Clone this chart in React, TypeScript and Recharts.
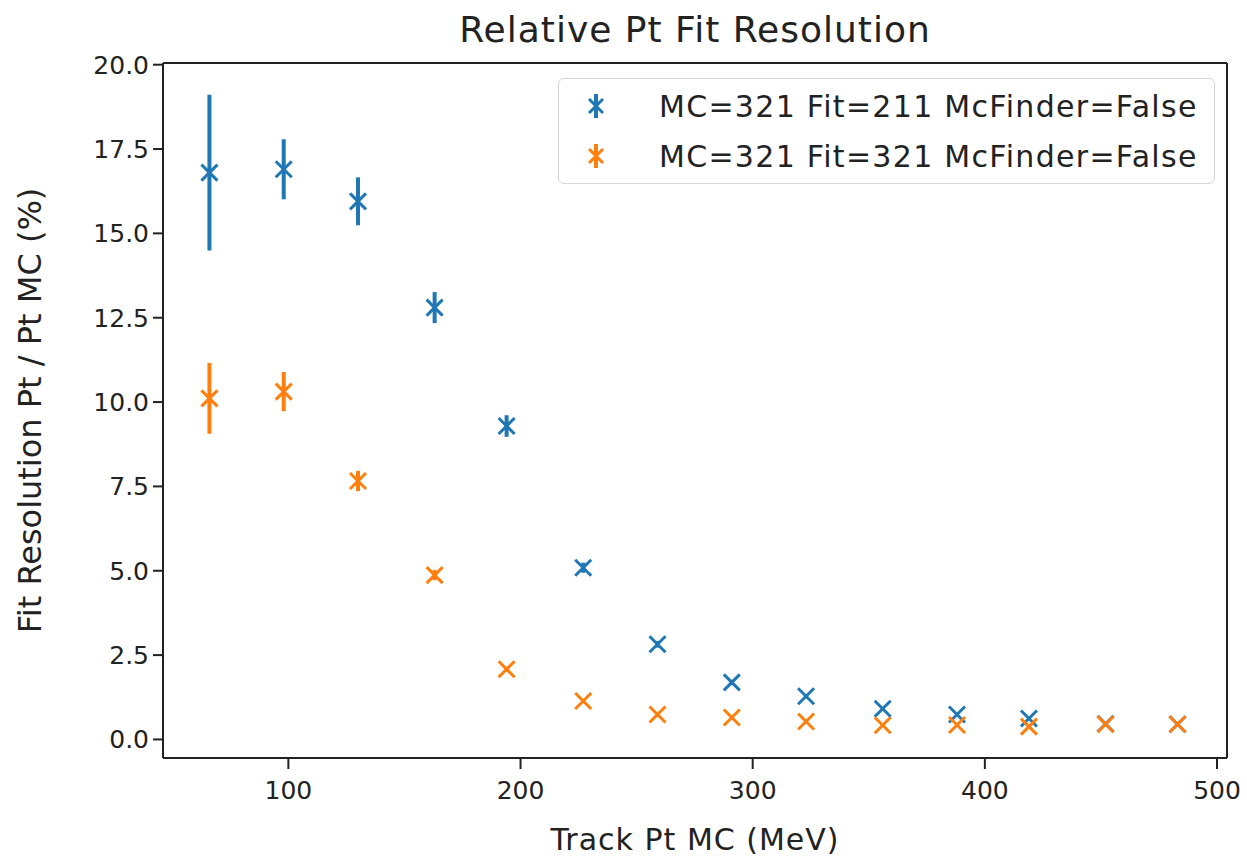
import React from 'react';
import {
  ScatterChart,
  Scatter,
  XAxis,
  YAxis,
  ErrorBar,
  ReferenceLine,
} from 'recharts';

// Track Pt MC (MeV) bin centres
const ptMC = [66, 98, 130, 163, 194, 227, 259, 291, 323, 356, 388, 419, 452, 483];

// MC=321 Fit=211 McFinder=False
const fit211 = [16.8, 16.9, 15.95, 12.8, 9.29, 5.09, 2.82, 1.69, 1.28, 0.91, 0.74, 0.62, 0.46, 0.45];
const fit211Err = [2.31, 0.89, 0.71, 0.46, 0.32, 0.15, 0.1, 0.08, 0.06, 0.05, 0.05, 0.04, 0.04, 0.04];

// MC=321 Fit=321 McFinder=False
const fit321 = [10.11, 10.31, 7.66, 4.87, 2.08, 1.14, 0.74, 0.65, 0.53, 0.42, 0.43, 0.38, 0.45, 0.45];
const fit321Err = [1.05, 0.58, 0.3, 0.15, 0.08, 0.06, 0.05, 0.04, 0.04, 0.03, 0.03, 0.03, 0.03, 0.03];

const xTicks = [100, 200, 300, 400, 500];
const yTicks = [0, 2.5, 5, 7.5, 10, 12.5, 15, 17.5, 20];

const seriesNames = ['MC=321 Fit=211 McFinder=False', 'MC=321 Fit=321 McFinder=False'];
const BLUE = '#1f77b4';
const ORANGE = '#ff7f0e';
const FONT = '"DejaVu Sans", sans-serif';
const X_DOMAIN: [number, number] = [46, 504.3];
const Y_DOMAIN: [number, number] = [-0.55, 20.05];

const toPoints = (ys: number[], errs: number[]) =>
  ptMC.map((x, i) => ({ x, y: ys[i], err: errs[i] }));

const blueData = toPoints(fit211, fit211Err);
const orangeData = toPoints(fit321, fit321Err);

// matplotlib style 'x' marker
const xMarker = (color: string) => (props: any) => {
  const { cx, cy } = props;
  const s = 8;
  return (
    <g>
      <line x1={cx - s} y1={cy - s} x2={cx + s} y2={cy + s} stroke={color} strokeWidth={3} />
      <line x1={cx - s} y1={cy + s} x2={cx + s} y2={cy - s} stroke={color} strokeWidth={3} />
    </g>
  );
};

const LegendIcon = ({ color }: { color: string }) => (
  <svg width={24} height={30} style={{ display: 'block' }}>
    <line x1={12} y1={3} x2={12} y2={27} stroke={color} strokeWidth={4} />
    <line x1={5} y1={8} x2={19} y2={22} stroke={color} strokeWidth={3} />
    <line x1={5} y1={22} x2={19} y2={8} stroke={color} strokeWidth={3} />
  </svg>
);

const ChartLegend = () => (
  <div
    style={{
      position: 'absolute',
      top: 78,
      left: 558,
      width: 657,
      border: '1.5px solid #d6d6d6',
      borderRadius: 6,
      background: 'rgba(255,255,255,0.8)',
      padding: '2px 0',
      fontFamily: FONT,
      fontSize: 30,
      letterSpacing: 1.3,
      color: '#222',
      boxSizing: 'border-box',
    }}
  >
    {seriesNames.map((name, i) => (
      <div key={name} style={{ display: 'flex', alignItems: 'center', height: 50 }}>
        <div style={{ width: 25, marginLeft: 25 }}>
          <LegendIcon color={i === 0 ? BLUE : ORANGE} />
        </div>
        <span style={{ marginLeft: 50, whiteSpace: 'nowrap' }}>{name}</span>
      </div>
    ))}
  </div>
);

const axisColor = '#222';
const tickStyle = { fill: '#222', fontSize: 25, fontFamily: FONT };

export default function App() {
  return (
    <div style={{ position: 'absolute', left: 0, top: 0, width: 1247, height: 858, background: '#fff' }}>
      <div
        style={{
          position: 'absolute',
          left: 163,
          width: 1064,
          top: 9,
          textAlign: 'center',
          fontFamily: FONT,
          fontSize: 36,
          letterSpacing: 1,
          color: '#222',
        }}
      >
        Relative Pt Fit Resolution
      </div>
      <ScatterChart
        width={1247}
        height={858}
        margin={{ top: 63, right: 20, bottom: 0, left: 0 }}
      >
        <XAxis
          type="number"
          dataKey="x"
          domain={X_DOMAIN}
          ticks={xTicks}
          allowDataOverflow
          height={100}
          tickSize={11}
          tickMargin={12}
          stroke={axisColor}
          strokeWidth={2}
          tick={tickStyle}
          label={{
            value: 'Track Pt MC (MeV)',
            position: 'insideBottom',
            offset: 8,
            style: { fill: '#222', fontSize: 30, fontFamily: FONT, letterSpacing: 1 },
          }}
        />
        <YAxis
          type="number"
          dataKey="y"
          domain={Y_DOMAIN}
          ticks={yTicks}
          allowDataOverflow
          width={163}
          tickSize={10}
          tickMargin={4}
          stroke={axisColor}
          strokeWidth={2}
          tick={tickStyle}
          tickFormatter={(v: number) => v.toFixed(1)}
          label={{
            value: 'Fit Resolution Pt / Pt MC (%)',
            angle: -90,
            position: 'insideLeft',
            offset: 30,
            style: { textAnchor: 'middle', fill: '#222', fontSize: 32, fontFamily: FONT },
          }}
        />
        {/* top and right spines */}
        <ReferenceLine y={Y_DOMAIN[1]} stroke={axisColor} strokeWidth={2} />
        <ReferenceLine x={X_DOMAIN[1]} stroke={axisColor} strokeWidth={2} />
        <Scatter
          name={seriesNames[0]}
          data={blueData}
          fill={BLUE}
          shape={xMarker(BLUE)}
          isAnimationActive={false}
        >
          <ErrorBar dataKey="err" direction="y" width={0} stroke={BLUE} strokeWidth={4} isAnimationActive={false} />
        </Scatter>
        <Scatter
          name={seriesNames[1]}
          data={orangeData}
          fill={ORANGE}
          shape={xMarker(ORANGE)}
          isAnimationActive={false}
        >
          <ErrorBar dataKey="err" direction="y" width={0} stroke={ORANGE} strokeWidth={4} isAnimationActive={false} />
        </Scatter>
      </ScatterChart>
      <ChartLegend />
    </div>
  );
}
